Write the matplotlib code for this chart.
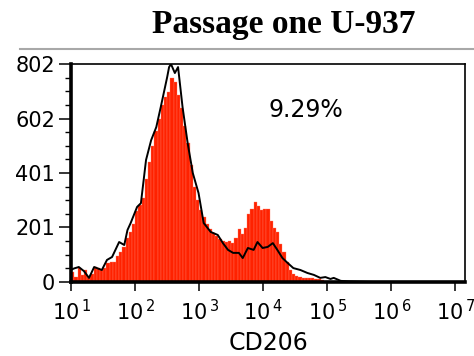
import matplotlib
matplotlib.use("Agg")
import matplotlib.pyplot as plt
from matplotlib.lines import Line2D
from matplotlib.ticker import FixedLocator, LogLocator, NullFormatter
import numpy as np

# red histogram: counts per channel, channels 0.05 decade wide starting at 10^1
bin_start = 1.0
bin_step = 0.05
red_counts = [35, 20, 50, 25, 45, 20, 30, 55, 52, 45,
              50, 68, 72, 75, 95, 112, 130, 160, 185, 215,
              262, 285, 310, 380, 440, 500, 555, 600, 650, 680,
              700, 750, 735, 690, 640, 575, 510, 430, 350, 300,
              265, 240, 215, 195, 180, 170, 158, 152, 148, 150,
              145, 160, 195, 175, 200, 250, 270, 295, 280, 265,
              270, 268, 225, 200, 185, 140, 110, 75, 45, 30,
              22, 18, 16, 15, 14, 13, 12, 10, 8, 5, 3]

# black overlay (isotype / control), x as log10 of CD206 intensity
black_log = [1.00, 1.05, 1.12, 1.20, 1.28, 1.36, 1.48, 1.56, 1.64, 1.75,
             1.83, 1.88, 1.93, 2.03, 2.09, 2.17, 2.25, 2.33, 2.40, 2.50,
             2.53, 2.56, 2.62, 2.67, 2.74, 2.82, 2.90, 2.99, 3.07, 3.18,
             3.29, 3.37, 3.45, 3.53, 3.62, 3.68, 3.76, 3.85, 3.91, 3.99,
             4.07, 4.15, 4.22, 4.30, 4.38, 4.47, 4.58, 4.69, 4.79, 4.89,
             4.97, 5.05, 5.10, 5.21, 5.36, 5.52, 5.70]
black_counts = [45, 50, 55, 40, 15, 55, 44, 81, 92, 147,
                136, 191, 217, 276, 290, 449, 522, 570, 644, 754,
                791, 802, 769, 791, 644, 511, 401, 327, 217, 184,
                173, 143, 118, 107, 107, 88, 125, 118, 147, 125,
                129, 143, 118, 88, 70, 51, 44, 33, 26, 15,
                18, 11, 15, 4, 2, 1, 0]

y_ticks = [0, 200.5, 401, 601.5, 802]
y_labels = ["0", "201", "401", "602", "802"]
x_decades = [1, 2, 3, 4, 5, 6, 7]

fig = plt.figure(figsize=(4.74, 3.56), dpi=100)
ax = fig.add_axes([0.150, 0.208, 0.831, 0.612])

edges = bin_start + bin_step * np.arange(len(red_counts) + 1)
left = 10 ** edges[:-1]
width = 10 ** edges[1:] - left
ax.bar(left, red_counts, width=width, align="edge", color="#ff2200",
       edgecolor="#ff7a66", linewidth=0.25, zorder=2)
ax.plot(10 ** np.array(black_log), black_counts, color="black", lw=1.4, zorder=3)

ax.set_xscale("log")
ax.set_xlim(10, 10 ** 7.15)
ax.set_ylim(0, 802)

ax.xaxis.set_major_locator(FixedLocator([10.0 ** d for d in x_decades]))
ax.set_xticklabels([r"$\mathregular{10}^{\,%d}$" % d for d in x_decades])
ax.xaxis.set_minor_locator(LogLocator(base=10, subs=np.arange(2, 10)))
ax.xaxis.set_minor_formatter(NullFormatter())

ax.yaxis.set_major_locator(FixedLocator(y_ticks))
ax.set_yticklabels(y_labels)
ax.yaxis.set_minor_locator(FixedLocator(np.arange(0, 802, 802 / 16)))

ax.tick_params(axis="both", which="major", direction="out", length=8.5, width=1.1,
               labelsize=15, pad=3)
ax.tick_params(axis="both", which="minor", direction="out", length=4, width=1.0)
ax.tick_params(axis="x", which="major", length=6.5, pad=6)

for side in ["left", "bottom"]:
    ax.spines[side].set_linewidth(2.6)
for side in ["top", "right"]:
    ax.spines[side].set_linewidth(1.2)

ax.set_xlabel("CD206", fontsize=17, labelpad=5)
ax.text(0.596, 0.787, "9.29%", transform=ax.transAxes, ha="center", va="center",
        fontsize=17)

fig.text(0.599, 0.907, "Passage one U-937", ha="center", va="baseline",
         fontsize=24, fontweight="bold", family="Liberation Serif")
fig.add_artist(Line2D([0.042, 1.0], [0.862, 0.862], transform=fig.transFigure,
                      color="#a8a8a8", lw=1.5))

fig.savefig("out.png", dpi=100)
